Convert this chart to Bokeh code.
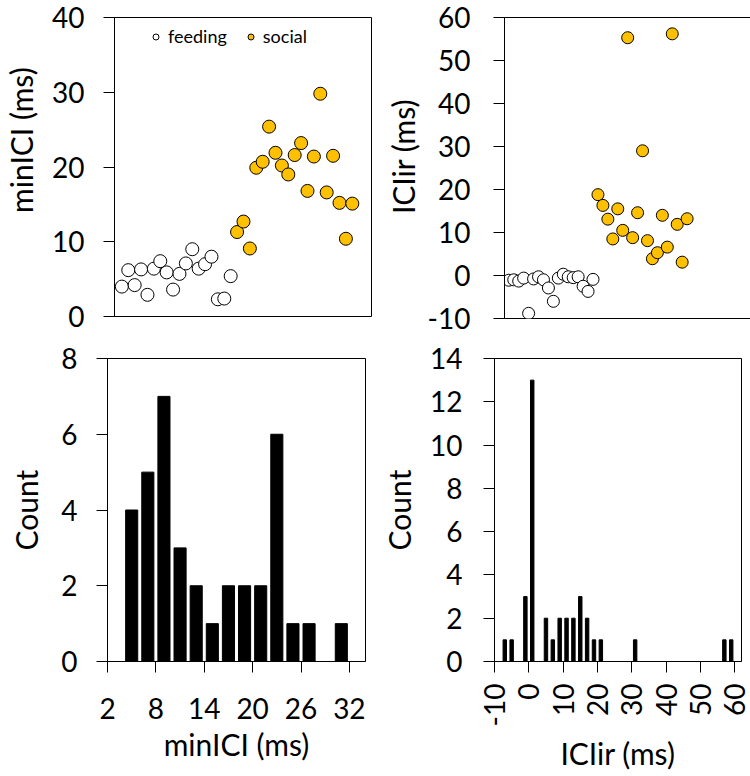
import math
from bokeh.plotting import figure
from bokeh.layouts import column, row
from bokeh.models import Range1d, Legend, LegendItem, FixedTicker
from bokeh.embed import file_html
from bokeh.resources import INLINE

# ---- data ----
feeding_minici = [4.0, 6.2, 4.2, 6.3, 2.9, 6.4, 7.4, 5.9, 3.6, 5.7, 7.1, 9.0, 6.4, 7.0, 8.0, 2.3, 2.4, 5.4]
social_minici = [11.3, 12.7, 9.1, 19.9, 20.7, 25.4, 21.9, 20.2, 19.0, 21.6, 23.2, 16.8, 21.4, 29.8, 16.6, 21.5, 15.2, 10.4, 15.1]
feeding_iciir = [-1.1, -1.0, -1.3, -0.6, -8.8, -0.8, -0.3, -1.0, -2.9, -6.0, -0.6, 0.3, -0.3, -0.5, -0.3, -2.5, -3.7, -0.9]
social_iciir = [18.8, 16.3, 13.1, 8.5, 15.5, 10.5, 55.3, 8.8, 14.6, 29.0, 8.1, 3.9, 5.3, 14.0, 6.6, 56.2, 11.9, 3.1, 13.2]

minici_bins = [5, 7, 9, 11, 13, 15, 17, 19, 21, 23, 25, 27, 31]
minici_counts = [4, 5, 7, 3, 2, 1, 2, 2, 2, 6, 1, 1, 1]
iciir_bins = [-7, -5, -1, 1, 5, 7, 9, 11, 13, 15, 17, 19, 21, 31, 57, 59]
iciir_counts = [1, 1, 3, 13, 2, 1, 2, 2, 2, 3, 2, 1, 1, 1, 1, 1]

minici_yticks = [0, 10, 20, 30, 40]
iciir_yticks = [-10, 0, 10, 20, 30, 40, 50, 60]
hist1_xticks = [2, 8, 14, 20, 26, 32]
hist1_yticks = [0, 2, 4, 6, 8]
hist2_xticks = [-10, 0, 10, 20, 30, 40, 50, 60]
hist2_yticks = [0, 2, 4, 6, 8, 10, 12, 14]

feeding_idx = list(range(1, len(feeding_minici) + 1))
social_idx = list(range(len(feeding_minici) + 1, len(feeding_minici) + len(social_minici) + 1))

FONT = "Lato"
TICK_FS = "28px"
TITLE_FS = "30px"
GOLD = "#FFC000"
NBSP = "\u00a0"


def style(p, label_standoff, title_standoff, xvisible=True):
    p.grid.visible = False
    p.outline_line_color = "black"
    p.outline_line_width = 1
    p.background_fill_color = "white"
    p.border_fill_color = "white"
    for ax in p.axis:
        ax.axis_line_color = "black"
        ax.major_tick_line_color = "black"
        ax.minor_tick_line_color = None
        ax.major_tick_in = 0
        ax.major_tick_out = 11
        ax.major_label_text_font = FONT
        ax.major_label_text_font_size = TICK_FS
        ax.major_label_text_color = "black"
        ax.axis_label_text_font = FONT
        ax.axis_label_text_font_size = TITLE_FS
        ax.axis_label_text_font_style = "normal"
        ax.axis_label_text_color = "black"
    p.yaxis.major_label_standoff = label_standoff
    p.yaxis.axis_label_standoff = title_standoff
    if not xvisible:
        p.xaxis.visible = False


# ---- top-left scatter ----
p1 = figure(frame_width=257, frame_height=299, min_border_left=110, min_border_right=10,
            min_border_top=17, min_border_bottom=20,
            x_range=Range1d(-0.15, 40), y_range=Range1d(0, 40),
            output_backend="svg", toolbar_location=None)
r_feed = p1.scatter(feeding_idx, feeding_minici, size=13, marker="circle",
                    fill_color="white", line_color="black", line_width=1)
r_soc = p1.scatter(social_idx, social_minici, size=13, marker="circle",
                   fill_color=GOLD, line_color="black", line_width=1)
p1.yaxis.axis_label = NBSP * 7 + "minICI (ms)"
p1.yaxis.ticker = FixedTicker(ticks=minici_yticks)
style(p1, 19, 10, xvisible=False)
leg = Legend(items=[LegendItem(label="feeding", renderers=[r_feed]),
                    LegendItem(label="social", renderers=[r_soc])],
             orientation="horizontal", location=(34, 269),
             glyph_width=15, glyph_height=15, label_standoff=5, spacing=16,
             padding=0, margin=0, border_line_alpha=0, background_fill_alpha=0,
             label_text_font=FONT, label_text_font_size="18px",
             label_text_color="black", label_height=15)
p1.add_layout(leg)

# ---- top-right scatter ----
p2 = figure(frame_width=248, frame_height=301, min_border_left=117, min_border_right=8,
            min_border_top=17, min_border_bottom=18,
            x_range=Range1d(0.13, 50.2), y_range=Range1d(-10, 60),
            output_backend="svg", toolbar_location=None)
p2.scatter(feeding_idx, feeding_iciir, size=12, marker="circle",
           fill_color="white", line_color="black", line_width=1)
p2.scatter(social_idx, social_iciir, size=12, marker="circle",
           fill_color=GOLD, line_color="black", line_width=1)
p2.yaxis.axis_label = NBSP * 3 + "ICIir (ms)"
p2.yaxis.ticker = FixedTicker(ticks=iciir_yticks)
p2.yaxis.major_label_overrides = {-10: "-10"}
style(p2, 23, 4, xvisible=False)

# ---- bottom-left histogram ----
p3 = figure(frame_width=258, frame_height=303, min_border_left=107, min_border_right=12,
            min_border_top=22, min_border_bottom=112,
            x_range=Range1d(2, 34), y_range=Range1d(0, 8),
            output_backend="svg", toolbar_location=None)
p3.vbar(x=minici_bins, top=minici_counts, width=1.5, bottom=0,
        fill_color="black", line_color="black")
p3.xaxis.axis_label = "minICI (ms)"
p3.yaxis.axis_label = "Count"
p3.xaxis.ticker = FixedTicker(ticks=hist1_xticks)
p3.yaxis.ticker = FixedTicker(ticks=hist1_yticks)
style(p3, 19, 14)
p3.xaxis.major_label_standoff = 25
p3.xaxis.axis_label_standoff = 4

# ---- bottom-right histogram ----
p4 = figure(frame_width=247, frame_height=303, min_border_left=117, min_border_right=9,
            min_border_top=22, min_border_bottom=112,
            x_range=Range1d(-10, 62), y_range=Range1d(0, 14),
            output_backend="svg", toolbar_location=None)
p4.vbar(x=iciir_bins, top=iciir_counts, width=1.0, bottom=0,
        fill_color="black", line_color="black")
p4.xaxis.axis_label = "ICIir (ms)"
p4.yaxis.axis_label = "Count"
p4.xaxis.ticker = FixedTicker(ticks=hist2_xticks)
p4.yaxis.ticker = FixedTicker(ticks=hist2_yticks)
p4.xaxis.major_label_overrides = {-10: "-10"}
style(p4, 21, 10)
p4.xaxis.major_label_orientation = math.pi / 2
p4.xaxis.major_label_standoff = 11
p4.xaxis.axis_label_standoff = 6

layout = column(row(p1, p2), row(p3, p4))

open("out.html", "w").write(file_html(layout, INLINE))
